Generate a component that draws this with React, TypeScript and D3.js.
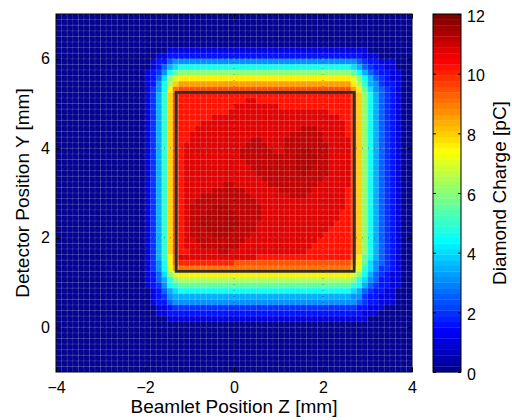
import React, { useEffect, useRef } from "react";
import * as d3 from "d3";

// beamlet scan: 64 x 64 positions, 0.125 mm pitch
const zFirst = -4; // left edge of first column [mm]
const yFirst = 7; // top edge of first row [mm]
const pitch = 0.125;

// diamond charge [pC] per scan row (top to bottom), run-length coded "value*count"
const topRows = [
  "0.1*64",
  "0.1*64",
  "0.1*64",
  "0.1*64",
  "0.1*64",
  "0.1*64",
  "0.1*20 1*36 0.1*8",
  "0.1*18 1*2 1.5*35 1*3 0.1*6",
  "0.1*17 1 1.5*2 2.5 3*33 2.5 2 1.5*2 1*3 0.1*3",
  "0.1*17 1 1.5 2.5 3.5 4 4.5*31 4 3.5 2.5 2 1.5*2 1*2 0.1*3",
  "0.1*16 1 1.5 2 3 4.5 5.5 6*31 5.5 4.5 3.5 2.5 2 1.5*2 1*2 0.1*2",
  "0.1*16 1 1.5 2.5 4 6 7 7.5*31 7 6 4.5 3.5 2.5 2 1.5 1*2 0.1*2",
  "0.1*16 1 1.5 3 4.5 6.5 8 8.5*31 7.5 6.5 5 3.5 3 2 1.5*2 1 0.1*2",
  "0.1*16 1 2 3 4.5 7.5 9 9.5*31 8.5 7.5 5.5 4 3 2.5 2 1.5 1 0.1*2",
];

// flat-top rows: same flanks, the middle 31 cells differ
const coreLeft = "0.1*16 1 2 3.5 5 8 9.5";
const coreRight = "9.5 8 6 4.5 3.5 2.5 2 1.5 1 0.1*2";
const coreRows = [
  "10.3*31",
  "10.3*12 10.75*2 10.3*17",
  "10.3*10 10.75*8 10.3*13",
  "10.3*9 10.75*18 10.3*4",
  "10.3*6 10.75*23 10.3*2",
  "10.3*4 10.75*26 10.3",
  "10.3*3 10.75*19 11.1*3 10.75*5 10.3",
  "10.3*2 10.75*18 11.1*6 10.75*4 10.3",
  "10.3*2 10.75*11 11.1*2 10.75*4 11.1*7 10.75*5",
  "10.3 10.75*11 11.1*4 10.75*3 11.1*8 10.75*4",
  "10.3 10.75*10 11.1*6 10.75*2 11.1*3 11.35*2 11.1*3 10.75*4",
  "10.3 10.75*10 11.1*10 11.35*4 11.1*2 10.75*4",
  "10.3 10.75*11 11.1*9 11.35*4 11.1*2 10.75*4",
  "10.3 10.75*12 11.1*8 11.35*3 11.1*3 10.75*4",
  "10.3 10.75*13 11.1*8 11.35 11.1*4 10.75*4",
  "10.3 10.75*14 11.1*11 10.75*5",
  "10.3 10.75*7 11.1*2 10.75*6 11.1*9 10.75*6",
  "10.3 10.75*5 11.1*6 10.75*6 11.1*6 10.75*6 10.3",
  "10.3 10.75*3 11.1*9 10.75*7 11.1*3 10.75*7 10.3",
  "10.3 10.75*2 11.1*11 10.75*16 10.3",
  "10.3 10.75 11.1*4 11.35*3 11.1*6 10.75*15 10.3",
  "10.3 10.75 11.1*3 11.35*5 11.1*5 10.75*14 10.3*2",
  "10.3 10.75 11.1*2 11.35*7 11.1*4 10.75*14 10.3*2",
  "10.3 10.75 11.1*2 11.35*7 11.1*3 10.75*14 10.3*3",
  "10.3 10.75 11.1*3 11.35*5 11.1*4 10.75*13 10.3*4",
  "10.3 10.75 11.1*4 11.35*3 11.1*4 10.75*13 10.3*5",
  "10.3 10.75*2 11.1*9 10.75*13 10.3*6",
  "10.3 10.75*3 11.1*7 10.75*13 10.3*7",
  "10.3*2 10.75*5 11.1*2 10.75*14 10.3*8",
];

const bottomRows = [
  "0.1*16 1 2 3.5 5 7.5 9 10.75*14 10.3*17 9 7.5 5.5 4.5 3.5 2.5 2 1.5 1 0.1*2",
  "0.1*16 1 2 3 4.5 7.5 9 10*10 9.5*21 8.5 7.5 5.5 4 3 2.5 2 1.5 1 0.1*2",
  "0.1*16 1 2 3 4.5 7 8.5 9*31 8 7 5 4 3 2*2 1.5 1 0.1*2",
  "0.1*16 1 1.5 2.5 4 6 7 7.5*31 7 6 4.5 3.5 2.5 2 1.5 1*2 0.1*2",
  "0.1*16 1 1.5 2.5 3.5 5 6 6.5*31 6 5 4 3 2.5 1.5*2 1*2 0.1*2",
  "0.1*16 1 1.5 2 3 4.5 5 5.5*31 5 4.5 3.5 2.5 2 1.5*2 1*2 0.1*2",
  "0.1*17 1 1.5 2.5 3.5 4 4.5*31 4 3.5 2.5 2 1.5*2 1*2 0.1*3",
  "0.1*17 1 1.5 2 3 3.5*32 3*2 2 1.5*2 1*3 0.1*3",
  "0.1*17 1 1.5*2 2.5 3*33 2.5 2 1.5*2 1*3 0.1*3",
  "0.1*18 1*2 1.5 2*33 1.5*2 1*3 0.1*5",
  "0.1*18 1*2 1.5*35 1*3 0.1*6",
  "0.1*20 1*36 0.1*8",
  "0.1*64",
  "0.1*64",
  "0.1*64",
  "0.1*64",
  "0.1*64",
  "0.1*64",
  "0.1*64",
  "0.1*64",
  "0.1*64",
];

// region of interest drawn as a box [mm]
const roi = { z0: -1.3, z1: 2.7, y0: 1.25, y1: 5.25 };

const zTicks = [-4, -2, 0, 2, 4];
const yTicks = [0, 2, 4, 6];
const cTicks = [0, 2, 4, 6, 8, 10, 12];
const cMax = 12;

const W = 512;
const H = 420;
const plot = { left: 56, right: 412, top: 14, bottom: 372 };
const bar = { left: 433, right: 461 };
const font = "'Liberation Sans', Arial, Helvetica, sans-serif";

const expand = (row: string): number[] => {
  const out: number[] = [];
  row
    .trim()
    .split(/\s+/)
    .forEach((tok) => {
      const [v, n] = tok.split("*");
      const count = n ? +n : 1;
      for (let i = 0; i < count; i++) out.push(+v);
    });
  return out;
};

const grid: number[][] = [
  ...topRows,
  ...coreRows.map((r) => `${coreLeft} ${r} ${coreRight}`),
  ...bottomRows,
].map(expand);

// MATLAB jet(64)
const clamp = (v: number) => Math.max(0, Math.min(1, v));
const jet = d3.range(64).map((k) => {
  const t = (k + 1) / 64;
  return d3
    .rgb(
      255 * clamp(1.5 - Math.abs(4 * t - 3)),
      255 * clamp(1.5 - Math.abs(4 * t - 2)),
      255 * clamp(1.5 - Math.abs(4 * t - 1))
    )
    .formatHex();
});

const App = () => {
  const axesRef = useRef<SVGGElement>(null);

  const x = d3.scaleLinear().domain([-4, 4]).range([plot.left, plot.right]);
  const y = d3.scaleLinear().domain([-1, 7]).range([plot.bottom, plot.top]);
  const c = d3.scaleLinear().domain([0, cMax]).range([plot.bottom, plot.top]);
  const color = d3.scaleQuantize<string>().domain([0, cMax]).range(jet);

  const cells: { x0: number; x1: number; y0: number; y1: number; v: number }[] = [];
  grid.forEach((row, j) =>
    row.forEach((v, i) => {
      cells.push({
        x0: x(zFirst + i * pitch),
        x1: x(zFirst + (i + 1) * pitch),
        y0: y(yFirst - j * pitch),
        y1: y(yFirst - (j + 1) * pitch),
        v,
      });
    })
  );

  // facet edges and diagonals of the surface
  const nCols = grid[0].length;
  const nRows = grid.length;
  let mesh = "";
  for (let i = 0; i <= nCols; i++) {
    const px = x(zFirst + i * pitch);
    mesh += `M${px},${y(yFirst)}V${y(yFirst - nRows * pitch)}`;
  }
  for (let j = 0; j <= nRows; j++) {
    const py = y(yFirst - j * pitch);
    mesh += `M${x(zFirst)},${py}H${x(zFirst + nCols * pitch)}`;
  }
  let diag = "";
  cells.forEach((d) => {
    diag += `M${d.x0},${d.y1}L${d.x1},${d.y0}`;
  });

  useEffect(() => {
    const g = d3.select(axesRef.current);
    g.selectAll("*").remove();
    const fmt = d3.format("d");

    const style = (sel: any) => {
      sel.select(".domain").remove();
      sel.selectAll("line").attr("stroke", "#000").attr("stroke-width", 1);
      sel
        .selectAll("text")
        .attr("fill", "#000")
        .style("font-family", font)
        .style("font-size", "16px");
    };

    g.append("g")
      .attr("transform", `translate(0,${plot.bottom})`)
      .call(d3.axisBottom(x).tickValues(zTicks).tickSize(-4.5).tickPadding(10).tickFormat(fmt))
      .call(style);
    g.append("g")
      .attr("transform", `translate(0,${plot.top})`)
      .call(d3.axisTop(x).tickValues(zTicks).tickSize(-4.5).tickFormat(() => ""))
      .call(style);
    g.append("g")
      .attr("transform", `translate(${plot.left},0)`)
      .call(d3.axisLeft(y).tickValues(yTicks).tickSize(-4.5).tickPadding(6).tickFormat(fmt))
      .call(style);
    g.append("g")
      .attr("transform", `translate(${plot.right},0)`)
      .call(d3.axisRight(y).tickValues(yTicks).tickSize(-4.5).tickFormat(() => ""))
      .call(style);

    g.append("g")
      .attr("transform", `translate(${bar.right},0)`)
      .call(d3.axisRight(c).tickValues(cTicks).tickSize(-3).tickPadding(6).tickFormat(fmt))
      .call(style)
      .selectAll("text")
      .attr("dy", "0.45em");
    g.append("g")
      .attr("transform", `translate(${bar.left},0)`)
      .call(d3.axisLeft(c).tickValues(cTicks).tickSize(-3).tickFormat(() => ""))
      .call(style);
  }, []);

  const levels = d3.range(jet.length);

  return (
    <svg
      width={W}
      height={H}
      style={{ position: "absolute", left: 0, top: 0, background: "#fff" }}
    >
      <defs>
        <clipPath id="plotClip">
          <rect
            x={plot.left}
            y={plot.top}
            width={plot.right - plot.left}
            height={plot.bottom - plot.top}
          />
        </clipPath>
      </defs>

      <g clipPath="url(#plotClip)">
        {cells.map((d, k) => (
          <rect
            key={k}
            x={d.x0}
            y={d.y0}
            width={d.x1 - d.x0 + 0.3}
            height={d.y1 - d.y0 + 0.3}
            fill={color(d.v)}
          />
        ))}
        <path d={diag} stroke="#fff" strokeOpacity={0.1} strokeWidth={0.6} fill="none" />
        <path d={mesh} stroke="#fff" strokeOpacity={0.18} strokeWidth={0.8} fill="none" />
        {zTicks.map((t) => (
          <line
            key={`gz${t}`}
            x1={x(t)}
            x2={x(t)}
            y1={plot.top}
            y2={plot.bottom}
            stroke="#000"
            strokeOpacity={0.4}
            strokeDasharray="1 5"
          />
        ))}
        {yTicks.map((t) => (
          <line
            key={`gy${t}`}
            x1={plot.left}
            x2={plot.right}
            y1={y(t)}
            y2={y(t)}
            stroke="#000"
            strokeOpacity={0.4}
            strokeDasharray="1 5"
          />
        ))}
        <rect
          x={x(roi.z0)}
          y={y(roi.y1)}
          width={x(roi.z1) - x(roi.z0)}
          height={y(roi.y0) - y(roi.y1)}
          fill="none"
          stroke="#2e2e2e"
          strokeWidth={2.8}
        />
      </g>

      <rect
        x={plot.left}
        y={plot.top}
        width={plot.right - plot.left}
        height={plot.bottom - plot.top}
        fill="none"
        stroke="#000"
        strokeWidth={1}
      />

      {levels.map((k) => (
        <rect
          key={`cb${k}`}
          x={bar.left}
          y={c(((k + 1) * cMax) / jet.length)}
          width={bar.right - bar.left}
          height={c((k * cMax) / jet.length) - c(((k + 1) * cMax) / jet.length) + 0.3}
          fill={jet[k]}
        />
      ))}
      <rect
        x={bar.left}
        y={plot.top}
        width={bar.right - bar.left}
        height={plot.bottom - plot.top}
        fill="none"
        stroke="#000"
        strokeWidth={1}
      />

      <g ref={axesRef} />

      <text
        x={(plot.left + plot.right) / 2}
        y={413}
        textAnchor="middle"
        fontFamily={font}
        fontSize={19}
      >
        Beamlet Position Z [mm]
      </text>
      <text
        transform={`translate(29,${(plot.top + plot.bottom) / 2}) rotate(-90)`}
        textAnchor="middle"
        fontFamily={font}
        fontSize={19}
      >
        Detector Position Y [mm]
      </text>
      <text
        transform={`translate(506,${(plot.top + plot.bottom) / 2}) rotate(-90)`}
        textAnchor="middle"
        fontFamily={font}
        fontSize={19}
      >
        Diamond Charge [pC]
      </text>
    </svg>
  );
};

export default App;
